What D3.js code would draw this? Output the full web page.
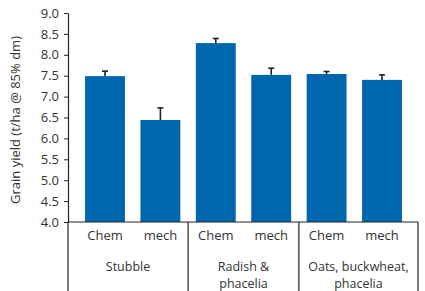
<!DOCTYPE html>
<html>
<head>
<meta charset="utf-8">
<script src="https://cdn.jsdelivr.net/npm/d3@7"></script>
<style>
  body { margin: 0; background: #fff; }
  text { font-family: "Open Sans", sans-serif; fill: #333; }
</style>
</head>
<body>
<div id="chart"></div>
<script>
// data
const groups = ["Stubble", "Radish & phacelia", "Oats, buckwheat, phacelia"];
const groupLines = [["Stubble"], ["Radish &", "phacelia"], ["Oats, buckwheat,", "phacelia"]];
const treatments = ["Chem", "mech"];
const yields = [7.49, 6.44, 8.28, 7.52, 7.54, 7.40];
const errors = [0.12, 0.29, 0.11, 0.16, 0.06, 0.12];
const yTicks = [4.0, 4.5, 5.0, 5.5, 6.0, 6.5, 7.0, 7.5, 8.0, 8.5, 9.0];

const W = 425, H = 291;
const plotLeft = 68, plotRight = 418, plotTop = 13, plotBottom = 222;

const bars = [];
groups.forEach((g, gi) => treatments.forEach((t, ti) => {
  const i = gi * treatments.length + ti;
  bars.push({ key: i, group: gi, treat: t, value: yields[i], err: errors[i] });
}));

const svg = d3.select("#chart").append("svg")
  .attr("width", W).attr("height", H);

const x = d3.scaleBand().domain(bars.map(d => d.key))
  .range([77.3, 409.7]).paddingInner(0.28).paddingOuter(0.14);
const y = d3.scaleLinear().domain([4, 9]).range([plotBottom, plotTop]);

// y axis
const yAxis = svg.append("g")
  .attr("transform", `translate(${plotLeft},0)`)
  .call(d3.axisLeft(y).tickValues(yTicks).tickFormat(d3.format(".1f")).tickSize(4).tickSizeOuter(0));
yAxis.select(".domain").attr("stroke", "#222").attr("stroke-width", 1.2);
yAxis.selectAll(".tick line").attr("stroke", "#222");
yAxis.selectAll(".tick text").attr("x", -9).style("font-size", "13px").style("fill", "#333");

svg.append("text")
  .attr("transform", `translate(17,120) rotate(-90)`)
  .attr("text-anchor", "middle")
  .attr("dominant-baseline", "middle")
  .style("font-size", "13px")
  .text("Grain yield (t/ha @ 85% dm)");

// bars
svg.selectAll(".bar").data(bars).enter().append("rect")
  .attr("class", "bar")
  .attr("x", d => x(d.key))
  .attr("y", d => y(d.value))
  .attr("width", x.bandwidth())
  .attr("height", d => y(4) - y(d.value))
  .attr("fill", "#0066ae");

// error bars (upper only)
const eb = svg.selectAll(".err").data(bars).enter().append("g").attr("class", "err");
eb.append("line")
  .attr("x1", d => x(d.key) + x.bandwidth() / 2)
  .attr("x2", d => x(d.key) + x.bandwidth() / 2)
  .attr("y1", d => y(d.value))
  .attr("y2", d => y(d.value + d.err))
  .attr("stroke", "#222").attr("stroke-width", 1.6);
eb.append("line")
  .attr("x1", d => x(d.key) + x.bandwidth() / 2 - 3)
  .attr("x2", d => x(d.key) + x.bandwidth() / 2 + 3)
  .attr("y1", d => y(d.value + d.err))
  .attr("y2", d => y(d.value + d.err))
  .attr("stroke", "#222").attr("stroke-width", 1.6);

// x axis baseline
svg.append("line")
  .attr("x1", plotLeft).attr("x2", plotRight)
  .attr("y1", plotBottom).attr("y2", plotBottom)
  .attr("stroke", "#222").attr("stroke-width", 1.2);

// group separators
const step = x.step();
const seps = [plotLeft];
for (let gi = 1; gi < groups.length; gi++) {
  seps.push(x(gi * treatments.length) - (step - x.bandwidth()) / 2);
}
seps.push(plotRight);
svg.selectAll(".sep").data(seps).enter().append("line")
  .attr("x1", d => d).attr("x2", d => d)
  .attr("y1", plotBottom).attr("y2", H)
  .attr("stroke", "#222").attr("stroke-width", 1.2);

// treatment labels
svg.selectAll(".tlab").data(bars).enter().append("text")
  .attr("x", d => x(d.key) + x.bandwidth() / 2)
  .attr("y", 237)
  .attr("text-anchor", "middle")
  .attr("dominant-baseline", "middle")
  .style("font-size", "13px")
  .text(d => d.treat);

// group labels, one text each, wrapped with tspans
groupLines.forEach((lines, gi) => {
  const cx = (seps[gi] + seps[gi + 1]) / 2;
  const t = svg.append("text")
    .attr("x", cx)
    .attr("y", 270.5)
    .attr("text-anchor", "middle")
    .style("font-size", "12.5px");
  lines.forEach((ln, li) => {
    t.append("tspan").attr("x", cx).attr("dy", li === 0 ? 0 : 17).text(ln);
  });
});
</script>
</body>
</html>
